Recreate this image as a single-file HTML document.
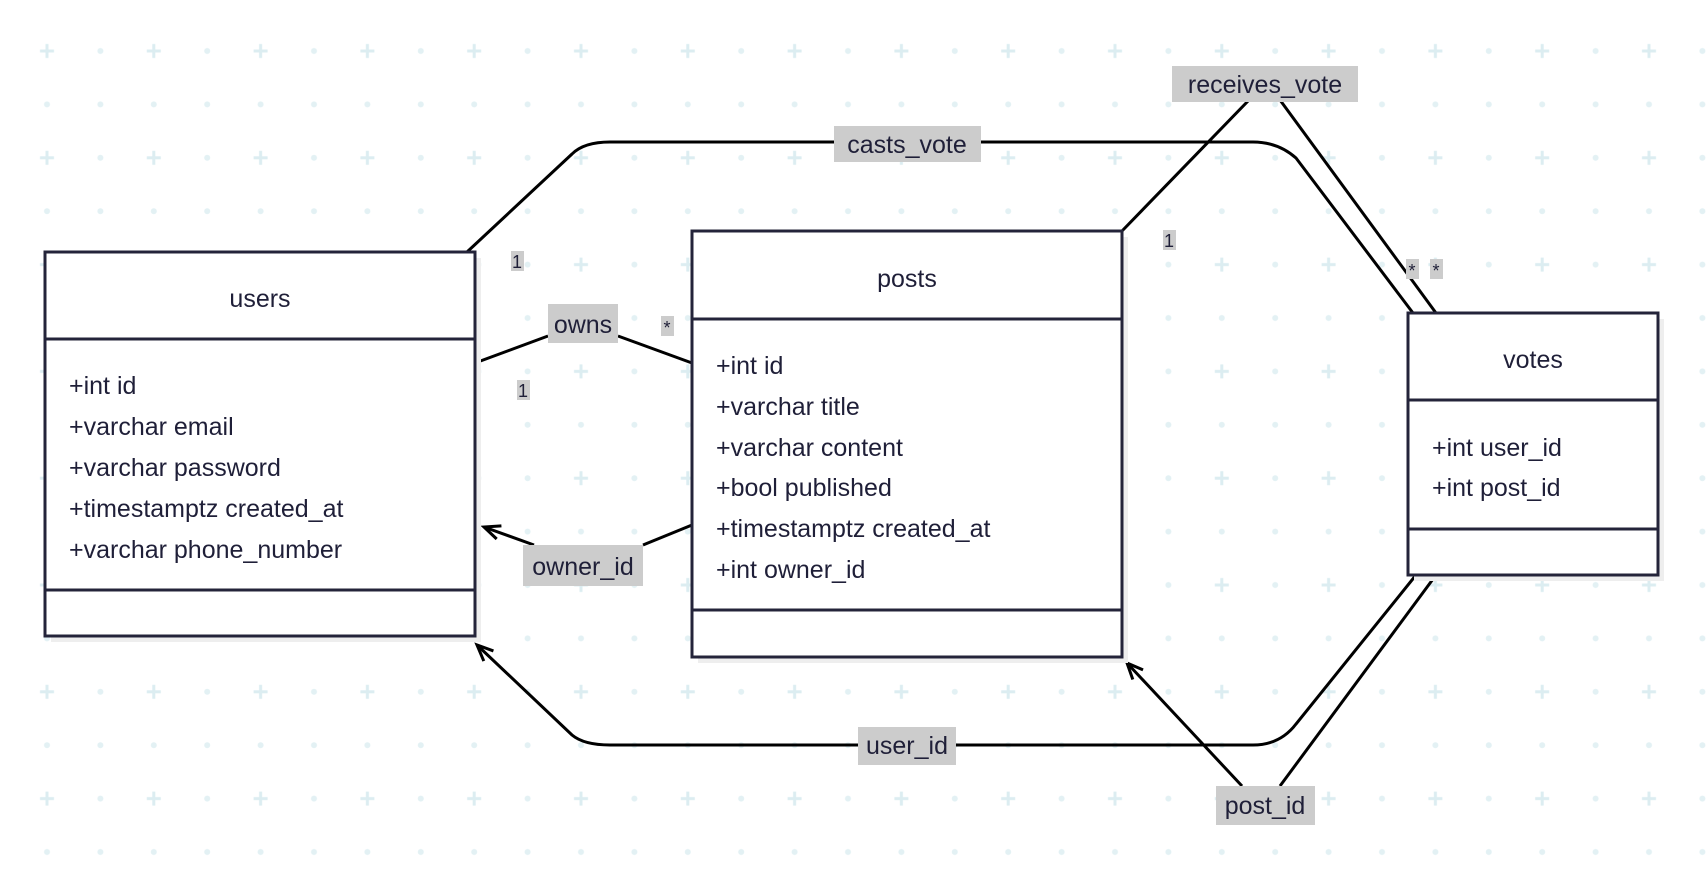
<!DOCTYPE html>
<html><head><meta charset="utf-8"><style>
html,body{margin:0;padding:0;background:#fff;width:1708px;height:872px;overflow:hidden}
svg{display:block}
text{font-family:"Liberation Sans","DejaVu Sans",sans-serif;fill:#1f1f38}
.t{font-size:25px}
.m{font-size:18px;font-family:"DejaVu Sans Mono","Liberation Mono",monospace}
.l{font-size:25px}
</style></head><body>
<svg width="1708" height="872" viewBox="0 0 1708 872" xmlns="http://www.w3.org/2000/svg">
<defs>
<pattern id="g" patternUnits="userSpaceOnUse" x="20.3" y="24.3" width="106.8" height="106.8">
<path d="M26.7 19.7V33.7M19.7 26.7H33.7" stroke="#dcedf1" stroke-width="3"/>
<circle cx="80.1" cy="26.7" r="3" fill="#e3f1f4"/>
<circle cx="26.7" cy="80.1" r="3" fill="#e3f1f4"/>
<circle cx="80.1" cy="80.1" r="3" fill="#e3f1f4"/>
</pattern>
<marker id="a" markerWidth="24" markerHeight="24" refX="18" refY="8" orient="auto" markerUnits="userSpaceOnUse" overflow="visible">
<path d="M2 1 L18 8 L2 15" fill="none" stroke="#000" stroke-width="3"/>
</marker>
</defs>
<rect width="1708" height="872" fill="#fff"/>
<rect x="0" y="20" width="1708" height="840" fill="url(#g)"/>

<g fill="none" stroke="#000" stroke-width="3">
<path d="M467 252 L572 154 Q584 142 610 142 L1253 142 Q1278 142 1296 158 L1413 313"/>
<path d="M1122 231 L1249 100"/>
<path d="M1280 100 L1436 313"/>
<path d="M475 363 L548 336"/>
<path d="M618 336 L692 363"/>
<path d="M692 525 L643 545"/>
<path d="M534 545 L484 527" marker-end="url(#a)"/>
<path d="M1416 575 L1296 724 Q1280 745 1253 745 L610 745 Q584 745 572 735 L477 645" marker-end="url(#a)"/>
<path d="M1436 575 L1280 786"/>
<path d="M1242 786 L1127 663" marker-end="url(#a)"/>
</g>

<g stroke="#24243a" stroke-width="3">
<rect x="51" y="258" width="430" height="384" fill="#eeeeee" stroke="none"/>
<rect x="45" y="252" width="430" height="384" fill="#fff"/>
<line x1="45" y1="339" x2="475" y2="339"/>
<line x1="45" y1="590" x2="475" y2="590"/>
<rect x="698" y="237" width="430" height="426" fill="#eeeeee" stroke="none"/>
<rect x="692" y="231" width="430" height="426" fill="#fff"/>
<line x1="692" y1="319" x2="1122" y2="319"/>
<line x1="692" y1="610" x2="1122" y2="610"/>
<rect x="1414" y="319" width="250" height="262" fill="#eeeeee" stroke="none"/>
<rect x="1408" y="313" width="250" height="262" fill="#fff"/>
<line x1="1408" y1="400" x2="1658" y2="400"/>
<line x1="1408" y1="529" x2="1658" y2="529"/>
</g>

<g class="t">
<text x="260" y="307" text-anchor="middle">users</text>
<text x="69" y="394">+int id</text>
<text x="69" y="435">+varchar email</text>
<text x="69" y="476">+varchar password</text>
<text x="69" y="517">+timestamptz created_at</text>
<text x="69" y="558">+varchar phone_number</text>
<text x="907" y="287" text-anchor="middle">posts</text>
<text x="716" y="374">+int id</text>
<text x="716" y="415">+varchar title</text>
<text x="716" y="456">+varchar content</text>
<text x="716" y="496">+bool published</text>
<text x="716" y="537">+timestamptz created_at</text>
<text x="716" y="578">+int owner_id</text>
<text x="1533" y="368" text-anchor="middle">votes</text>
<text x="1432" y="456">+int user_id</text>
<text x="1432" y="496">+int post_id</text>
</g>

<g fill="#cccccc">
<rect x="834" y="126" width="147" height="36"/>
<rect x="1172" y="66" width="186" height="36"/>
<rect x="548" y="304" width="70" height="39"/>
<rect x="523" y="545" width="120" height="41"/>
<rect x="858" y="727" width="98" height="38"/>
<rect x="1216" y="786" width="99" height="39"/>
<rect x="511" y="251" width="13" height="20"/>
<rect x="661" y="316" width="13" height="20"/>
<rect x="517" y="380" width="13" height="20"/>
<rect x="1163" y="230" width="13" height="20"/>
<rect x="1406" y="259" width="13" height="20"/>
<rect x="1430" y="259" width="13" height="20"/>
</g>
<g class="l" text-anchor="middle">
<text x="907" y="153">casts_vote</text>
<text x="1265" y="93">receives_vote</text>
<text x="583" y="333">owns</text>
<text x="583" y="575">owner_id</text>
<text x="907" y="754">user_id</text>
<text x="1265" y="814">post_id</text>
</g>
<g class="m" text-anchor="middle">
<text x="517" y="268">1</text>
<text x="667" y="334">*</text>
<text x="523" y="397">1</text>
<text x="1169" y="247">1</text>
<text x="1412" y="277">*</text>
<text x="1436" y="277">*</text>
</g>
</svg>
</body></html>
